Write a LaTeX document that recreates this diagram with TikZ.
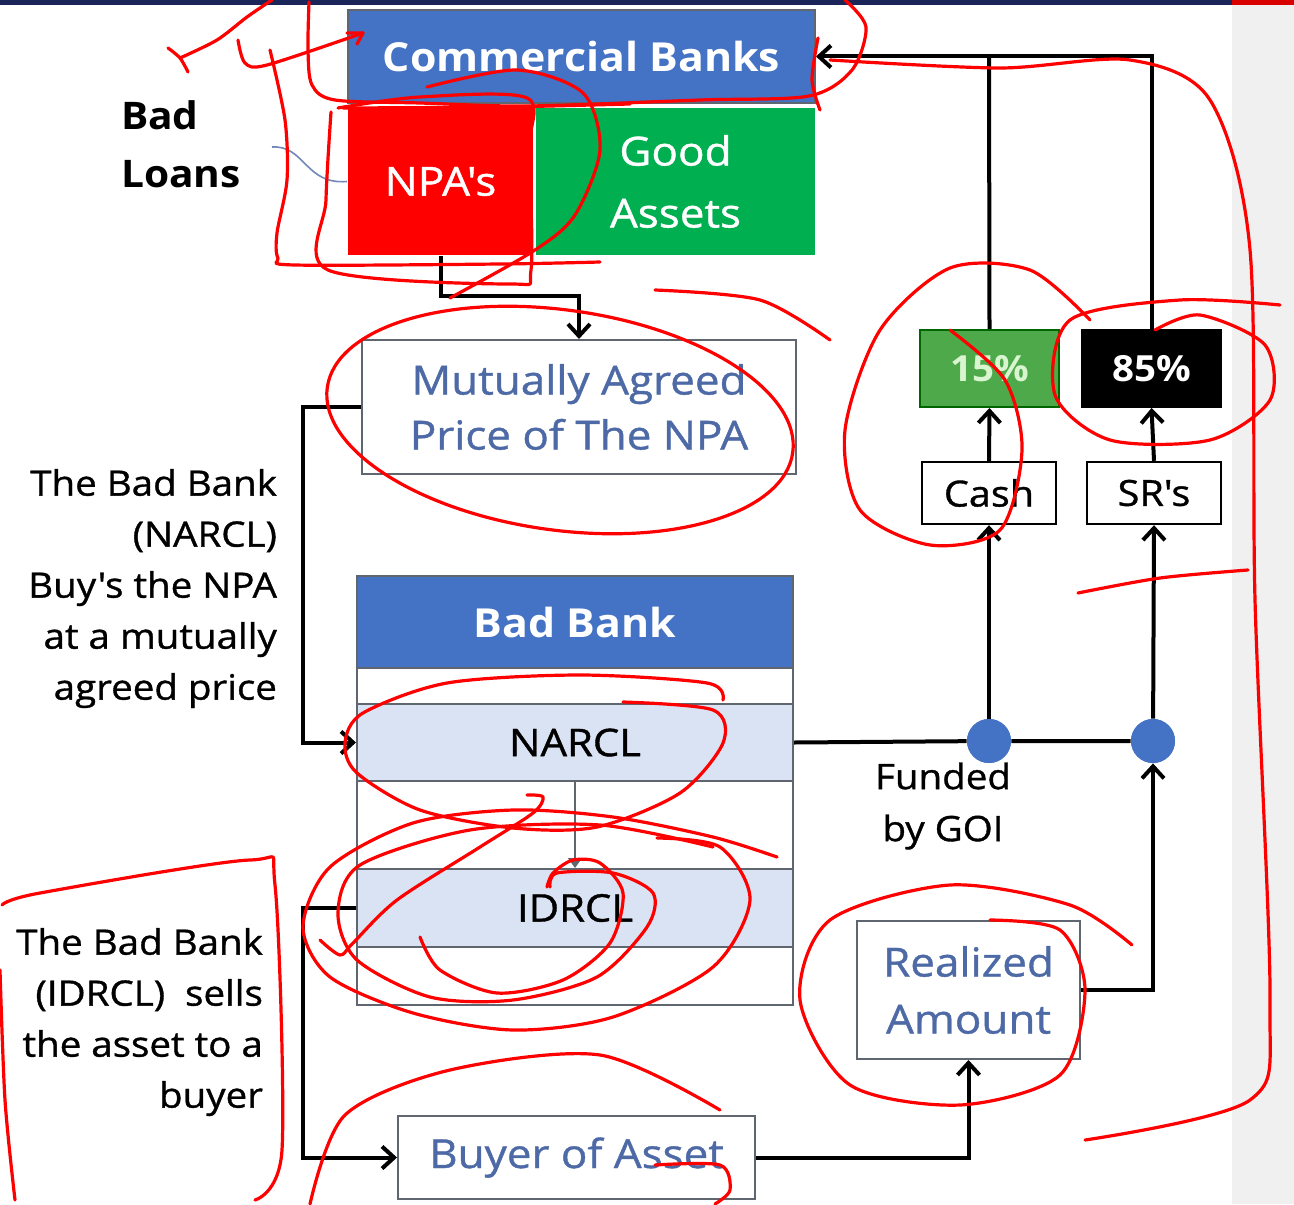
\documentclass[tikz,border=0pt]{standalone}
\usepackage{fontspec}
\setmainfont{Open Sans}[Ligatures=TeXOff, FakeStretch=1.1, FakeBold=1]
\newfontfamily\hdrfont{Open Sans}[Ligatures=TeXOff, FakeStretch=1.07]
\usetikzlibrary{arrows.meta,calc}
\definecolor{hdrblue}{HTML}{4472C4}
\definecolor{npared}{HTML}{FF0000}
\definecolor{goodgreen}{HTML}{00B050}
\definecolor{rowblue}{HTML}{DAE3F3}
\definecolor{txtblue}{HTML}{4E6AA6}
\definecolor{edgegrey}{HTML}{5F6670}
\definecolor{pgreen}{HTML}{4EA94B}
\definecolor{pgtext}{HTML}{D9F5D0}
\definecolor{navy}{HTML}{1B2559}
\definecolor{ink}{HTML}{FF0000}
\tikzset{
  solid box/.style={draw=edgegrey, line width=1pt, inner sep=0pt, align=center},
  pale box/.style={draw=edgegrey, line width=1pt, fill=white, inner sep=0pt, align=center, text=txtblue, font=\fontsize{20}{27.5}\selectfont},
  small box/.style={draw=black, line width=1.2pt, fill=white, inner sep=0pt, align=center, font=\fontsize{18}{22}\selectfont},
  hdr/.style={text=white, font=\hdrfont\bfseries\fontsize{20}{25}\selectfont},
  conn/.style={line width=2pt, draw=black},
  arr/.style={conn, -{Straight Barb[length=6pt,width=11pt,line width=2pt]}},
  dot/.style={circle, fill=hdrblue, draw=none, minimum size=22pt, inner sep=0pt},
  side text/.style={align=right, font=\fontsize{17.5}{25.5}\selectfont, anchor=north east},
  scribble/.style={draw=ink, line width=1.6pt, line cap=round, line join=round},
}
\begin{document}
\begin{tikzpicture}[x=0.5pt,y=-0.5pt]
\useasboundingbox (0,0) rectangle (1294,1204);
% background details
\fill[white] (0,0) rectangle (1294,1204);
\fill[gray!12] (1232,0) rectangle (1294,1204);
\fill[navy] (0,0) rectangle (1232,5);
\fill[red!85!black] (1232,0) rectangle (1294,5);

% top boxes
\node[solid box, fill=hdrblue, hdr, minimum width=233.5pt, minimum height=46.5pt] (cb) at (581.5,56.5) {Commercial Banks};
\node[solid box, draw=none, fill=npared, text=white, font=\fontsize{20}{25}\selectfont,
      minimum width=92.5pt, minimum height=73.5pt] (npa) at (440.5,181.5) {NPA's};
\node[solid box, draw=none, fill=goodgreen, text=white, font=\fontsize{20}{31}\selectfont,
      minimum width=139.5pt, minimum height=73.5pt] (good) at (675.5,181.5) {Good\\Assets};
\node[font=\hdrfont\bfseries\fontsize{19}{29}\selectfont, align=left, anchor=north west] (badloans) at (114,94) {Bad\\Loans};
\draw[txtblue!80, line width=0.8pt] (272,147) .. controls (305,145) and (305,185) .. (npa.west);

% mutually agreed price
\node[pale box, minimum width=217pt, minimum height=67pt] (map) at (579,407) {Mutually Agreed\\Price of The NPA};

% bad bank container
\draw[edgegrey, line width=1pt, fill=white] (357,576) rectangle (793,1005);
\node[solid box, fill=hdrblue, hdr, minimum width=218pt, minimum height=46pt] (bb) at (575,622) {Bad Bank};
\node[solid box, fill=rowblue, font=\fontsize{19}{25}\selectfont,
      minimum width=218pt, minimum height=38.5pt] (narcl) at (575,742.5) {NARCL};
\node[solid box, fill=rowblue, font=\fontsize{19}{25}\selectfont,
      minimum width=218pt, minimum height=39pt] (idrcl) at (575,908) {IDRCL};
\draw[edgegrey, line width=0.8pt, -{Triangle[length=5pt,width=7pt]}] (narcl.south) -- (idrcl.north);

% right side
\node[small box, minimum width=67pt, minimum height=31pt] (cash) at (989,493) {Cash};
\node[small box, minimum width=67pt, minimum height=31pt] (srs) at (1154,493) {SR's};
\node[solid box, fill=pgreen, draw=green!40!black, text=pgtext, font=\hdrfont\bfseries\fontsize{18}{22}\selectfont,
      minimum width=69.5pt, minimum height=38.5pt] (p15) at (989.5,368.5) {15\%};
\node[solid box, fill=black, draw=black, text=white, font=\hdrfont\bfseries\fontsize{18}{22}\selectfont,
      minimum width=69.5pt, minimum height=38.5pt] (p85) at (1151.5,368.5) {85\%};
\node[dot] (d1) at (989,741) {};
\node[dot] (d2) at (1153,741) {};
\node[align=center, font=\fontsize{17.5}{26}\selectfont] (goi) at (943,806) {Funded\\by GOI};
\node[pale box, font=\fontsize{20}{28.5}\selectfont, minimum width=111.5pt, minimum height=69pt] (real) at (968.5,990) {Realized\\Amount};
\node[pale box, minimum width=178.5pt, minimum height=41.5pt] (buyer) at (576.5,1157.5) {Buyer of Asset};

% side texts
\node[side text] (t1) at (284,462) {The Bad Bank\\(NARCL)\\Buy's the NPA\\at a mutually\\agreed price};
\node[side text] (t2) at (270,921) {The Bad Bank\\(IDRCL)\ \ sells\\the asset to a\\buyer};

% connectors
\coordinate (k1) at (303,407);
\coordinate (k2) at (303,908);
\coordinate (top15) at (989,55);
\draw[arr] (npa.south) -- ++(0,40) -| (map.north);
\draw[arr] (map.west) -- (k1) |- (narcl.west);
\draw[arr] (idrcl.west) -- (k2) |- (buyer.west);
\draw[arr] (buyer.east) -| (real.south);
\draw[arr] (real.east) -| (d2.south);
\draw[conn] (narcl.east) -- (d1) -- (d2);
\draw[arr] (d1) -- (cash.south);
\draw[arr] (cash.north) -- (p15.south);
\draw[arr] (d2) -- (srs.south);
\draw[arr] (srs.north) -- (p85.south);
\draw[conn] (p15.north) -- (top15);
\draw[arr] (p85.north) |- (cb.east);
\node[dot] at (d1) {};
\node[dot] at (d2) {};

% red hand annotations
% top-left ticks and arrow
\draw[scribble] plot[smooth] coordinates {(168,48) (180,58) (188,72)};
\draw[scribble] plot[smooth] coordinates {(180,58) (217,40) (247,17) (272,0)};
\draw[scribble] plot[smooth] coordinates {(238,40) (245,63) (267,65) (363,33)};
\draw[scribble] (363,33) -- (357,44) (363,33) -- (347,33);
% loop round Commercial Banks
\draw[scribble] plot[smooth] coordinates {(309,2) (308,50) (312,85) (335,100) (420,103) (528,106) (700,100) (809,96) (852,70) (866,27) (845,0)};
\draw[scribble] plot[smooth] coordinates {(343,108) (500,107) (630,104)};
\draw[scribble] plot[smooth] coordinates {(818,38) (812,80) (820,110)};
% loops round NPA's
\draw[scribble] plot[smooth] coordinates {(270,50) (285,120) (287,180) (277,233) (278,258) (295,265) (500,264) (600,262)};
\draw[scribble] plot[smooth] coordinates {(331,112) (326,200) (328,270) (510,284) (531,270) (529,150) (527,98) (420,97) (338,108)};
\draw[scribble] plot[smooth] coordinates {(427,87) (517,70) (583,93) (600,150) (575,215) (535,250) (450,298)};
% Mutually agreed
\draw[scribble, rotate around={-8:(560,420)}] (560,420) ellipse [x radius=235, y radius=110];
\draw[scribble] plot[smooth] coordinates {(655,290) (760,300) (830,340)};
% 15% and 85%
\draw[scribble] plot[smooth] coordinates {(950,330) (1005,380) (1022,450) (1000,530) (930,545) (860,510) (845,430) (880,330) (950,268) (1030,270) (1090,320)};
\draw[scribble] plot[smooth] coordinates {(1155,330) (1200,315) (1265,345) (1270,400) (1210,440) (1110,440) (1055,395) (1070,320) (1180,300) (1280,305)};
\draw[scribble] plot[smooth] coordinates {(1078,593) (1160,578) (1248,570)};
% NARCL loop
\draw[scribble] plot[smooth] coordinates {(723,700) (707,683) (580,675) (447,683) (363,713) (345,743) (357,773) (420,810) (513,828) (597,827) (680,793) (723,743) (713,710) (623,702)};
% Z stroke
\draw[scribble] plot[smooth] coordinates {(527,795) (543,797) (533,813) (480,847) (397,900) (353,943) (340,955) (320,940)};
% IDRCL loops
\draw[scribble] plot[smooth] coordinates {(777,857) (713,837) (613,817) (513,810) (413,823) (330,867) (303,927) (330,977) (413,1013) (513,1030) (613,1017) (713,967) (750,900) (720,847) (657,838)};
\draw[scribble] plot[smooth] coordinates {(713,847) (600,825) (470,830) (360,865) (338,913) (357,960) (430,997) (513,1000) (597,977) (647,927) (653,893) (613,873) (557,873) (550,887)};
\draw[scribble] plot[smooth] coordinates {(420,937) (440,970) (497,993) (563,980) (610,943) (623,893) (600,863) (573,860) (553,873) (547,887)};
% Realized amount
\draw[scribble] plot[smooth] coordinates {(990,920) (1060,930) (1085,990) (1060,1075) (960,1105) (850,1085) (800,1000) (830,920) (950,885) (1070,905) (1132,945)};
% right bracket
\draw[scribble] plot[smooth] coordinates {(830,60) (1000,68) (1130,60) (1210,100) (1250,250) (1255,600) (1270,1000) (1250,1100) (1085,1140)};
% left bracket
\draw[scribble] plot[smooth] coordinates {(2,905) (40,893) (250,860) (275,885) (282,1150) (255,1200)};
\draw[scribble] plot[smooth] coordinates {(0,970) (5,1100) (15,1200)};
% buyer
\draw[scribble] plot[smooth] coordinates {(310,1204) (345,1115) (450,1070) (600,1055) (720,1110)};
\draw[scribble] plot[smooth] coordinates {(655,1165) (720,1165) (730,1190) (715,1204)};
\end{tikzpicture}
\end{document}
